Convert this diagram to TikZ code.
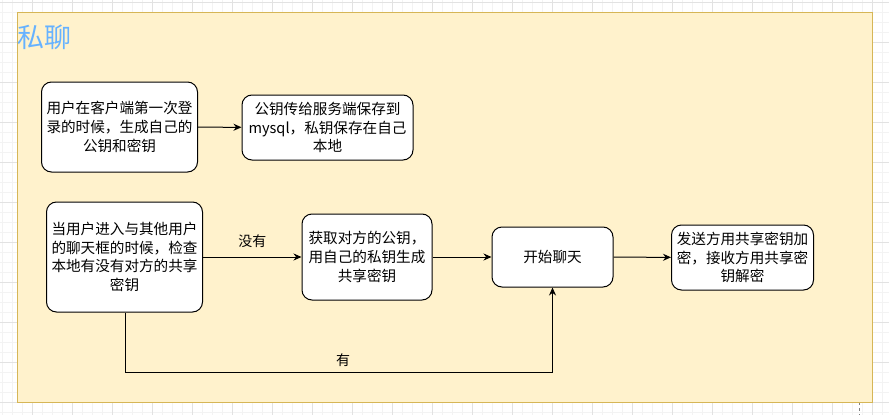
\documentclass[tikz,border=0pt]{standalone}
\usepackage{fontspec}
\setmainfont{Noto Sans CJK SC}
\usetikzlibrary{arrows.meta}
\definecolor{gridminor}{HTML}{F3F3F3}
\definecolor{gridmajor}{HTML}{E2E2E2}
\definecolor{panelfill}{HTML}{FFF2CC}
\definecolor{panelline}{HTML}{D6B656}
\definecolor{titleblue}{HTML}{66B2FF}
\tikzset{
  x=1pt, y=-1pt,
  box/.style={draw=black, line width=1pt, fill=white, rounded corners=10pt, align=center,
    font=\fontsize{14.6pt}{18.6pt}\selectfont, inner sep=1pt},
  conn/.style={draw=black, line width=1pt, -{Stealth[length=8pt,width=7pt]}},
  lbl/.style={font=\fontsize{14pt}{16pt}\selectfont, inner sep=1pt}
}
\begin{document}
\begin{tikzpicture}
\useasboundingbox (0,0) rectangle (889,415);
\fill[white] (0,0) rectangle (889,415);
\foreach \x in {2,12,...,882} \draw[gridminor, line width=0.8pt] (\x,0) -- (\x,415);
\foreach \y in {2,12,...,412} \draw[gridminor, line width=0.8pt] (0,\y) -- (889,\y);
\foreach \x in {32,72,...,872} \draw[gridmajor, line width=0.8pt] (\x,0) -- (\x,415);
\foreach \y in {2,42,...,402} \draw[gridmajor, line width=0.8pt] (0,\y) -- (889,\y);
\draw[gray, dashed, line width=0.8pt] (859,402) -- (859,415);
\draw[draw=panelline, fill=panelfill, line width=1pt] (17,12) rectangle (872,402);
\node[anchor=west, text=titleblue, font=\fontsize{27pt}{30pt}\selectfont, inner sep=0pt] (title) at (17,37) {私聊};

\node[box, minimum width=155pt, minimum height=90pt, text width=154pt] (a) at (119.5,127) {用户在客户端第一次登\\录的时候，生成自己的\\公钥和密钥};
\node[box, minimum width=171pt, minimum height=65pt, text width=168pt] (b) at (327.5,127.5) {公钥传给服务端保存到\\mysql，私钥保存在自己\\本地};
\node[box, minimum width=155pt, minimum height=110pt, text width=154pt] (c) at (124.5,257) {当用户进入与其他用户\\的聊天框的时候，检查\\本地有没有对方的共享\\密钥};
\node[box, minimum width=130pt, minimum height=86pt, text width=128pt] (d) at (367,257) {获取对方的公钥，\\用自己的私钥生成\\共享密钥};
\node[box, minimum width=121pt, minimum height=60pt, text width=118pt] (e) at (552.5,257) {开始聊天};
\node[box, minimum width=141pt, minimum height=65pt, text width=140pt] (f) at (742.5,257.5) {发送方用共享密钥加\\密，接收方用共享密\\钥解密};

\draw[conn] (a) -- (b);
\draw[conn] (c) -- node[lbl, above, pos=0.5, yshift=8pt] (no) {没有} (d);
\draw[conn] (d) -- (e);
\draw[conn] (e) -- (f);
\coordinate (bend) at (125,372);
\draw[conn] (c.south -| bend) -- (bend) -- node[lbl, above, pos=0.51, yshift=4pt] (yes) {有} (bend -| e.south) -- (e.south);
\end{tikzpicture}
\end{document}
